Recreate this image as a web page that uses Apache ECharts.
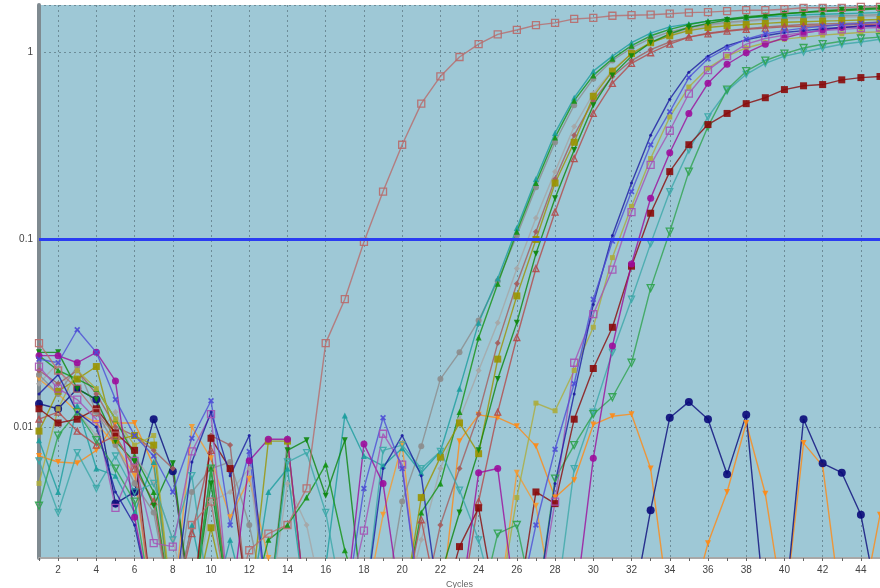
<!DOCTYPE html>
<html><head><meta charset="utf-8">
<script src="https://cdn.jsdelivr.net/npm/echarts@6/dist/echarts.min.js"></script>
<style>html,body{margin:0;padding:0;background:#fff}#c{width:880px;height:588px}</style>
</head><body><div id="c"></div>
<script>
const cycles = ['1','2','3','4','5','6','7','8','9','10','11','12','13','14','15','16','17','18','19','20','21','22','23','24','25','26','27','28','29','30','31','32','33','34','35','36','37','38','39','40','41','42','43','44','45'];
const threshold = 0.1;

const early = [0.028,0.02,0.016,0.012,0.009,0.006,0.001,0.001,0.003,0.004, 0.001,0.0022,0.0027,0.003,0.0047,0.028,0.048,0.097,0.18,0.32, 0.53,0.74,0.94,1.10,1.24,1.31,1.39,1.43,1.5,1.52, 1.56,1.57,1.58,1.6,1.62,1.63,1.65,1.67,1.67,1.69, 1.72,1.72,1.72,1.74,1.74];
const tealA = [0.0085,0.0045,0.013,0.006,0.0055,0.0035,0.0065,0.001,0.003,0.001, 0.0025,0.001,0.0045,0.006,0.001,0.0018,0.0115,0.007,0.0062,0.0077, 0.0057,0.0074,0.016,0.036,0.062,0.115,0.21,0.37,0.57,0.79, 0.95,1.12,1.26,1.36,1.41,1.46,1.5,1.52,1.54,1.56, 1.58,1.59,1.6,1.61,1.62];
const greenA = [0.024,0.02,0.018,0.016,0.011,0.007,0.0045,0.001,0.001,0.006, 0.001,0.001,0.0025,0.003,0.0042,0.0063,0.0022,0.001,0.001,0.001, 0.0035,0.005,0.012,0.03,0.058,0.11,0.2,0.35,0.55,0.75, 0.92,1.08,1.22,1.32,1.4,1.46,1.5,1.54,1.57,1.6, 1.62,1.64,1.66,1.68,1.7];
const greyA = [0.019,0.015,0.021,0.012,0.008,0.005,0.0035,0.001,0.0045,0.006, 0.0065,0.003,0.001,0.0085,0.001,0.001,0.001,0.001,0.001,0.004, 0.0079,0.018,0.025,0.037,0.06,0.105,0.19,0.33,0.52,0.72, 0.9,1.05,1.18,1.28,1.35,1.4,1.44,1.47,1.5,1.52, 1.53,1.55,1.56,1.57,1.58];
const greyB = [0.017,0.022,0.012,0.009,0.012,0.007,0.005,0.0025,0.001,0.004, 0.0045,0.006,0.001,0.005,0.003,0.001,0.001,0.001,0.001,0.001, 0.0025,0.006,0.011,0.02,0.036,0.07,0.13,0.23,0.4,0.6, 0.8,0.98,1.12,1.24,1.32,1.38,1.42,1.45,1.48,1.5, 1.51,1.52,1.53,1.54,1.55];
const oliveA = [0.0095,0.0155,0.018,0.021,0.0085,0.009,0.008,0.001,0.001,0.0029, 0.001,0.001,0.0084,0.0084,0.001,0.001,0.001,0.001,0.001,0.001, 0.0042,0.0069,0.0105,0.0072,0.023,0.05,0.1,0.2,0.33,0.58, 0.79,0.98,1.12,1.22,1.3,1.35,1.38,1.4,1.42,1.44, 1.45,1.46,1.47,1.48,1.49];
const brownTri = [0.011,0.012,0.0095,0.008,0.009,0.006,0.004,0.001,0.0027,0.0075, 0.001,0.001,0.001,0.001,0.001,0.001,0.001,0.001,0.001,0.001, 0.0032,0.001,0.001,0.004,0.012,0.03,0.07,0.14,0.27,0.47, 0.68,0.87,0.99,1.1,1.2,1.25,1.29,1.32,1.34,1.36, 1.37,1.38,1.39,1.4,1.41];
const greenDown = [0.025,0.025,0.016,0.014,0.0084,0.0065,0.0038,0.0064,0.001,0.005, 0.001,0.001,0.001,0.0075,0.0085,0.0043,0.0085,0.001,0.001,0.001, 0.001,0.0016,0.0035,0.0075,0.018,0.036,0.084,0.166,0.3,0.52, 0.75,0.95,1.12,1.25,1.35,1.42,1.48,1.52,1.56,1.6, 1.63,1.66,1.68,1.7,1.72];
const rosePlus = [0.02,0.017,0.02,0.015,0.01,0.009,0.0075,0.006,0.001,0.009, 0.008,0.001,0.001,0.001,0.001,0.001,0.001,0.001,0.001,0.001, 0.001,0.003,0.006,0.0117,0.028,0.058,0.11,0.21,0.36,0.55, 0.74,0.9,1.03,1.13,1.2,1.26,1.3,1.33,1.36,1.38, 1.4,1.41,1.42,1.43,1.44];
const blueX = [0.023,0.022,0.033,0.025,0.014,0.009,0.007,0.0045,0.0087,0.0138, 0.003,0.0074,0.001,0.001,0.001,0.001,0.001,0.0047,0.0112,0.006, 0.001,0.001,0.001,0.001,0.001,0.001,0.003,0.0076,0.017,0.048, 0.098,0.18,0.32,0.48,0.73,0.92,1.05,1.17,1.25,1.3, 1.34,1.37,1.4,1.42,1.44];
const navyLine = [0.015,0.019,0.012,0.01,0.0045,0.003,0.001,0.001,0.0065,0.012, 0.0055,0.009,0.001,0.001,0.001,0.001,0.001,0.001,0.006,0.009, 0.0055,0.001,0.001,0.001,0.001,0.001,0.001,0.005,0.015,0.045, 0.105,0.2,0.36,0.56,0.78,0.95,1.08,1.16,1.22,1.27, 1.3,1.33,1.35,1.37,1.38];
const violetSq = [0.021,0.016,0.014,0.011,0.0037,0.0066,0.0024,0.0023,0.0074,0.0117, 0.001,0.001,0.001,0.001,0.001,0.001,0.001,0.0028,0.0092,0.0063, 0.001,0.001,0.001,0.001,0.001,0.001,0.001,0.004,0.022,0.04, 0.069,0.14,0.25,0.38,0.6,0.8,0.95,1.1,1.18,1.23, 1.27,1.3,1.32,1.34,1.35];
const magenta = [0.024,0.024,0.022,0.025,0.0176,0.0033,0.001,0.001,0.001,0.001, 0.001,0.0066,0.0086,0.0086,0.001,0.001,0.001,0.0081,0.005,0.001, 0.001,0.001,0.001,0.0057,0.006,0.001,0.001,0.001,0.001,0.0068, 0.027,0.074,0.166,0.29,0.47,0.68,0.86,0.99,1.1,1.19, 1.26,1.31,1.35,1.37,1.39];
const khaki = [0.005,0.0125,0.02,0.016,0.011,0.008,0.009,0.001,0.001,0.001, 0.001,0.001,0.001,0.001,0.001,0.001,0.001,0.001,0.001,0.001, 0.001,0.001,0.001,0.001,0.001,0.0042,0.0134,0.0122,0.02,0.034, 0.08,0.15,0.27,0.45,0.65,0.82,0.95,1.05,1.12,1.17, 1.2,1.23,1.25,1.27,1.28];
const darkRed = [0.0125,0.0105,0.011,0.0125,0.0093,0.0075,0.001,0.001,0.001,0.0087, 0.006,0.001,0.001,0.001,0.001,0.001,0.001,0.001,0.001,0.001, 0.001,0.001,0.0023,0.0037,0.001,0.001,0.0045,0.0039,0.011,0.0205, 0.034,0.072,0.138,0.23,0.32,0.41,0.47,0.53,0.57,0.63, 0.66,0.67,0.71,0.73,0.74];
const tealDown = [0.0066,0.0035,0.0073,0.0047,0.007,0.0045,0.005,0.0025,0.0055,0.001, 0.001,0.001,0.001,0.0065,0.0073,0.0035,0.001,0.001,0.0075,0.008, 0.006,0.0074,0.0046,0.0025,0.001,0.001,0.001,0.001,0.006,0.012, 0.025,0.048,0.095,0.18,0.3,0.45,0.62,0.76,0.87,0.95, 1.0,1.05,1.1,1.13,1.17];
const greenOpen = [0.0038,0.009,0.012,0.0085,0.006,0.004,0.001,0.001,0.001,0.006, 0.001,0.001,0.001,0.001,0.001,0.001,0.001,0.001,0.001,0.001, 0.001,0.001,0.001,0.001,0.0027,0.003,0.001,0.0053,0.008,0.0117, 0.0144,0.022,0.055,0.11,0.23,0.4,0.63,0.79,0.9,0.98, 1.05,1.1,1.14,1.18,1.2];
const navyDot = [0.0133,0.0125,0.016,0.014,0.0039,0.0045,0.011,0.0058,0.001,0.001, 0.001,0.001,0.001,0.001,0.001,0.001,0.001,0.001,0.001,0.001, 0.001,0.001,0.001,0.001,0.001,0.001,0.001,0.001,0.001,0.001, 0.001,0.001,0.0036,0.0112,0.0136,0.011,0.0056,0.0116,0.001,0.001, 0.011,0.0064,0.0057,0.0034,0.001];
const orangeA = [0.007,0.0065,0.0064,0.0075,0.0105,0.0105,0.0062,0.001,0.001,0.001, 0.001,0.001,0.001,0.001,0.001,0.001,0.001,0.001,0.001,0.001, 0.001,0.001,0.0084,0.0116,0.0112,0.0101,0.0079,0.0042,0.0052,0.0103, 0.0114,0.0117,0.006,0.001,0.001,0.0024,0.0045,0.0105,0.0044,0.001, 0.0082,0.0062,0.001,0.001,0.0034];
const orangeB = [0.018,0.015,0.012,0.0105,0.008,0.0055,0.001,0.001,0.01,0.0068, 0.0033,0.0053,0.002,0.001,0.001,0.001,0.001,0.001,0.0034,0.0081, 0.001,0.001,0.001,0.001,0.001,0.0057,0.0038,0.001,0.001,0.001, 0.001,0.001,0.001,0.001,0.001,0.001,0.001,0.001,0.001,0.001, 0.001,0.001,0.001,0.001,0.001];

const XSYM = 'path://M2,0L5,3L8,0L10,2L7,5L10,8L8,10L5,7L2,10L0,8L3,5L0,2Z';
const defs = [
  {data: orangeB, color:'#f59a30', symbol:'triangle', rot:180, open:false},
  {data: orangeA, color:'#ff8a14', symbol:'triangle', rot:180, open:false},
  {data: navyDot, color:'#0a0a7a', symbol:'circle', size:8, open:false},
  {data: greyB, color:'#a6a6a6', symbol:'diamond', open:false},
  {data: greyA, color:'#8c8c8c', symbol:'circle', open:false},
  {data: rosePlus, color:'#a45c5c', symbol:'diamond', open:false},
  {data: tealA, color:'#1b9d9d', symbol:'triangle', open:false},
  {data: greenA, color:'#139213', symbol:'triangle', open:false},
  {data: oliveA, color:'#9a9400', symbol:'rect', size:7, open:false},
  {data: brownTri, color:'#b34a4a', symbol:'triangle', open:true},
  {data: greenDown, color:'#0c860c', symbol:'triangle', rot:180, open:false},
  {data: khaki, color:'#acac3c', symbol:'rect', size:5, open:false},
  {data: tealDown, color:'#3ba8a8', symbol:'triangle', rot:180, open:true},
  {data: greenOpen, color:'#2ea24e', symbol:'triangle', rot:180, open:true, size:7},
  {data: darkRed, color:'#8a0a0a', symbol:'rect', size:7, open:false},
  {data: magenta, color:'#9c0c9c', symbol:'circle', size:7, open:false},
  {data: violetSq, color:'#a551b5', symbol:'rect', size:7, open:true},
  {data: navyLine, color:'#1c1ca0', symbol:'circle', size:3, open:false},
  {data: blueX, color:'#4d4dd6', symbol:XSYM, size:6, open:false},
  {data: early, color:'#b86a6a', symbol:'rect', size:7, open:true}
];

const series = defs.map((d, i) => ({
  type: 'line',
  name: 's' + i,
  data: d.data,
  symbol: d.symbol,
  symbolSize: d.size || 6,
  symbolRotate: d.rot || 0,
  showAllSymbol: true,
  clip: true,
  silent: true,
  lineStyle: {color: d.color, width: 1.4, opacity: 0.8},
  itemStyle: d.open ? {color: 'rgba(0,0,0,0)', borderColor: d.color, borderWidth: 1.3, opacity: 0.9}
                    : {color: d.color, opacity: 0.9},
  z: 3
}));
series.push({
  type: 'line', name: 'threshold', data: [], silent: true,
  markLine: {silent: true, symbol: 'none', label: {show: false}, animation: false,
    lineStyle: {color: '#2a3cf2', width: 3, type: 'solid', opacity: 1},
    data: [{yAxis: threshold}]},
  z: 5
});

const chart = echarts.init(document.getElementById('c'), null, {renderer: 'canvas'});
chart.setOption({
  animation: false,
  backgroundColor: '#ffffff',
  grid: {left: 39, right: 0, top: 5, bottom: 30, show: true, backgroundColor: '#9ec8d6', borderWidth: 0,
    containLabel: false, outerBoundsMode: 'none'},
  xAxis: {
    type: 'category', data: cycles, boundaryGap: false,
    name: 'Cycles', nameLocation: 'middle', nameGap: 21,
    nameTextStyle: {fontSize: 9, color: '#666', fontFamily: 'Liberation Sans'},
    axisLine: {lineStyle: {color: '#a8a8a8', width: 2}},
    axisTick: {interval: 0, length: 3, lineStyle: {color: '#666'}},
    axisLabel: {interval: (i) => i % 2 === 1, fontSize: 10, color: '#444', margin: 7, fontFamily: 'Liberation Sans'},
    splitLine: {show: true, interval: (i) => i % 2 === 1, lineStyle: {type: [2, 3], color: '#6d8c98', width: 1}}
  },
  yAxis: {
    type: 'log', logBase: 10, min: 0.002, max: 1.78,
    axisLine: {show: true, lineStyle: {color: '#7f8a90', width: 4}},
    axisTick: {show: false},
    axisLabel: {showMinLabel: false, showMaxLabel: false, fontSize: 10, color: '#444', margin: 6, fontFamily: 'Liberation Sans',
      formatter: (v) => String(+(+v).toPrecision(2))},
    splitLine: {show: true, lineStyle: {type: [2, 3], color: '#6d8c98', width: 1}}
  },
  series: series
});
</script></body></html>
